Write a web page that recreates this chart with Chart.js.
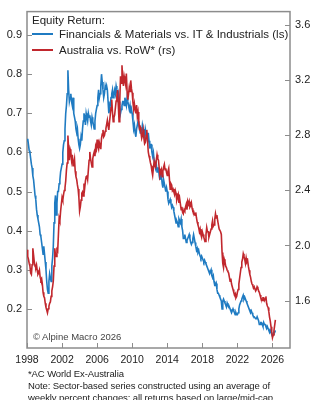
<!DOCTYPE html>
<html>
<head>
<meta charset="utf-8">
<script src="https://cdn.jsdelivr.net/npm/chart.js@4.4.1/dist/chart.umd.min.js"></script>
<style>
  body { margin: 0; background: #fff; font-family: "Liberation Sans", Arial, sans-serif; color: #222; }
  #wrap { position: relative; width: 324px; height: 400px; overflow: hidden; }
  canvas { position: absolute; left: 0; top: 0; }
  .txt { position: absolute; white-space: nowrap; }
  .legend { font-size: 11.5px; line-height: 16px; left: 32px; }
  .swatch { display: inline-block; width: 21px; height: 0; border-top: 2px solid; vertical-align: middle; margin-right: 6px; position: relative; top: -1px; }
  .note { font-size: 9.5px; line-height: 12px; left: 28px; letter-spacing: -0.1px; }
</style>
</head>
<body>
<div id="wrap">
  <canvas id="chart" width="324" height="370"></canvas>
  <div class="txt legend" style="top:12px">Equity Return:</div>
  <div class="txt legend" style="top:26px"><span class="swatch" style="border-color:#1f7bc2"></span>Financials &amp; Materials vs. IT &amp; Industrials (ls)</div>
  <div class="txt legend" style="top:42px"><span class="swatch" style="border-color:#c1272d"></span>Australia vs. RoW* (rs)</div>
  <div class="txt" style="left:33px; top:331px; font-size:9.5px; color:#444">© Alpine Macro 2026</div>
  <div class="txt note" style="top:368px">*AC World Ex-Australia</div>
  <div class="txt note" style="top:380px">Note: Sector-based series constructed using an average of</div>
  <div class="txt note" style="top:392px">weekly percent changes; all returns based on large/mid-cap</div>
</div>
<script>
// --------------- Data (monthly readings from Jan 1998) -----------------
const startYear = 1998;
const pointsPerYear = 12;

// Financials & Materials vs. IT & Industrials (left scale)
const finMatVsItInd = [
  0.63, 0.635, 0.62, 0.605, 0.60, 0.585, 0.57, 0.56, 0.54, 0.53, 0.51, 0.49,        // 1998
  0.48, 0.455, 0.44, 0.43, 0.42, 0.41, 0.39, 0.385, 0.37, 0.355, 0.34, 0.36,        // 1999
  0.34, 0.32, 0.30, 0.27, 0.25, 0.24, 0.27, 0.29, 0.28, 0.27, 0.31, 0.33,           // 2000
  0.36, 0.42, 0.47, 0.49, 0.44, 0.47, 0.50, 0.50, 0.52, 0.53, 0.55, 0.56,           // 2001
  0.57, 0.60, 0.62, 0.63, 0.66, 0.70, 0.72, 0.75, 0.81, 0.76, 0.73, 0.74,           // 2002
  0.75, 0.73, 0.72, 0.74, 0.70, 0.69, 0.68, 0.66, 0.65, 0.66, 0.635, 0.62,          // 2003
  0.61, 0.62, 0.64, 0.63, 0.66, 0.68, 0.70, 0.69, 0.67, 0.70, 0.69, 0.68,           // 2004
  0.70, 0.69, 0.695, 0.68, 0.67, 0.69, 0.68, 0.67, 0.66, 0.68, 0.70, 0.71,          // 2005
  0.72, 0.74, 0.76, 0.74, 0.75, 0.77, 0.80, 0.78, 0.76, 0.74, 0.75, 0.77,           // 2006
  0.76, 0.77, 0.76, 0.73, 0.70, 0.71, 0.72, 0.74, 0.75, 0.76, 0.74, 0.75,           // 2007
  0.76, 0.75, 0.77, 0.76, 0.74, 0.75, 0.73, 0.72, 0.70, 0.71, 0.72, 0.73,           // 2008
  0.73, 0.72, 0.74, 0.73, 0.72, 0.74, 0.73, 0.72, 0.71, 0.72, 0.70, 0.71,           // 2009
  0.70, 0.68, 0.66, 0.67, 0.65, 0.64, 0.66, 0.67, 0.68, 0.67, 0.66, 0.65,           // 2010
  0.66, 0.65, 0.67, 0.66, 0.65, 0.64, 0.66, 0.65, 0.64, 0.63, 0.65, 0.63,           // 2011
  0.61, 0.62, 0.62, 0.60, 0.59, 0.60, 0.58, 0.57, 0.56, 0.57, 0.55, 0.56,           // 2012
  0.56, 0.54, 0.53, 0.545, 0.54, 0.52, 0.51, 0.53, 0.52, 0.51, 0.50, 0.51,          // 2013
  0.50, 0.48, 0.47, 0.475, 0.48, 0.47, 0.46, 0.465, 0.46, 0.45, 0.44, 0.43,         // 2014
  0.42, 0.425, 0.42, 0.41, 0.43, 0.425, 0.42, 0.43, 0.41, 0.40, 0.38, 0.38,         // 2015
  0.39, 0.38, 0.37, 0.375, 0.38, 0.385, 0.39, 0.38, 0.37, 0.365, 0.37, 0.38,        // 2016
  0.39, 0.38, 0.37, 0.36, 0.35, 0.355, 0.345, 0.35, 0.34, 0.335, 0.33, 0.335,       // 2017
  0.33, 0.325, 0.32, 0.325, 0.32, 0.315, 0.31, 0.305, 0.30, 0.295, 0.29, 0.295,     // 2018
  0.30, 0.285, 0.28, 0.285, 0.27, 0.26, 0.26, 0.265, 0.25, 0.24, 0.24, 0.235,       // 2019
  0.23, 0.225, 0.22, 0.20, 0.22, 0.225, 0.22, 0.215, 0.21, 0.205, 0.215, 0.21,      // 2020
  0.21, 0.205, 0.20, 0.195, 0.19, 0.195, 0.20, 0.195, 0.19, 0.185, 0.19, 0.185,     // 2021
  0.185, 0.19, 0.20, 0.21, 0.215, 0.22, 0.225, 0.23, 0.235, 0.225, 0.23, 0.225,     // 2022
  0.22, 0.215, 0.21, 0.205, 0.20, 0.195, 0.19, 0.195, 0.19, 0.185, 0.18, 0.18,      // 2023
  0.18, 0.175, 0.175, 0.18, 0.18, 0.17, 0.16, 0.16, 0.165, 0.165, 0.16, 0.155,      // 2024
  0.165, 0.16, 0.16, 0.155, 0.15, 0.155, 0.15, 0.145, 0.14, 0.145, 0.14, 0.135,     // 2025
  0.13, 0.135, 0.14, 0.14, 0.145                                                    // 2026
];

// Australia vs. RoW* (right scale)
const ausVsRow = [
  1.97, 1.92, 1.90, 1.87, 1.85, 1.80, 1.79, 1.86, 1.98, 1.93, 1.88, 1.85,   // 1998
  1.84, 1.86, 1.82, 1.79, 1.80, 1.82, 1.77, 1.75, 1.76, 1.72, 1.66, 1.63,   // 1999
  1.62, 1.58, 1.55, 1.53, 1.51, 1.54, 1.56, 1.58, 1.59, 1.63, 1.67, 1.70,   // 2000
  1.74, 1.85, 1.98, 1.93, 1.92, 1.97, 1.96, 2.08, 2.20, 2.18, 2.25, 2.30,   // 2001
  2.35, 2.33, 2.37, 2.40, 2.42, 2.47, 2.55, 2.60, 2.80, 2.70, 2.62, 2.70,   // 2002
  2.68, 2.62, 2.66, 2.58, 2.60, 2.63, 2.54, 2.50, 2.48, 2.44, 2.41, 2.35,   // 2003
  2.25, 2.28, 2.33, 2.38, 2.39, 2.36, 2.45, 2.42, 2.47, 2.50, 2.51, 2.48,   // 2004
  2.55, 2.62, 2.68, 2.63, 2.60, 2.57, 2.63, 2.66, 2.68, 2.65, 2.72, 2.70,   // 2005
  2.77, 2.72, 2.70, 2.75, 2.73, 2.70, 2.78, 2.81, 2.84, 2.79, 2.80, 2.83,   // 2006
  2.85, 2.88, 2.91, 2.87, 2.84, 2.90, 2.95, 3.00, 3.06, 2.97, 2.90, 2.93,   // 2007
  2.95, 3.00, 3.05, 3.08, 3.13, 3.02, 2.90, 3.05, 3.23, 3.18, 3.31, 3.22,   // 2008
  3.16, 3.23, 3.20, 3.17, 3.25, 3.12, 3.06, 3.10, 3.15, 3.12, 3.20, 3.14,   // 2009
  3.11, 3.04, 2.99, 3.03, 2.99, 2.96, 3.02, 2.94, 2.97, 2.90, 2.85, 2.86,   // 2010
  2.82, 2.78, 2.80, 2.84, 2.78, 2.74, 2.75, 2.80, 2.84, 2.76, 2.68, 2.65,   // 2011
  2.63, 2.60, 2.58, 2.54, 2.51, 2.56, 2.61, 2.58, 2.57, 2.62, 2.66, 2.63,   // 2012
  2.62, 2.56, 2.51, 2.53, 2.55, 2.50, 2.54, 2.57, 2.59, 2.55, 2.56, 2.53,   // 2013
  2.51, 2.54, 2.56, 2.48, 2.41, 2.45, 2.44, 2.40, 2.41, 2.39, 2.37, 2.40,   // 2014
  2.38, 2.33, 2.35, 2.37, 2.31, 2.34, 2.30, 2.26, 2.28, 2.24, 2.23, 2.26,   // 2015
  2.25, 2.28, 2.30, 2.26, 2.32, 2.30, 2.32, 2.28, 2.29, 2.31, 2.27, 2.25,   // 2016
  2.25, 2.23, 2.22, 2.24, 2.20, 2.17, 2.15, 2.13, 2.10, 2.12, 2.08, 2.06,   // 2017
  2.10, 2.08, 2.06, 2.04, 2.03, 2.08, 2.13, 2.10, 2.10, 2.06, 2.08, 2.10,   // 2018
  2.12, 2.15, 2.18, 2.14, 2.15, 2.19, 2.23, 2.20, 2.22, 2.18, 2.15, 2.12,   // 2019
  2.12, 2.10, 2.08, 1.95, 1.87, 1.84, 1.90, 1.88, 1.85, 1.84, 1.82, 1.81,   // 2020
  1.80, 1.77, 1.74, 1.76, 1.72, 1.70, 1.68, 1.66, 1.64, 1.65, 1.62, 1.63,   // 2021
  1.66, 1.68, 1.72, 1.76, 1.80, 1.84, 1.88, 1.90, 1.94, 1.92, 1.90, 1.87,   // 2022
  1.91, 1.88, 1.89, 1.85, 1.82, 1.79, 1.77, 1.74, 1.72, 1.71, 1.69, 1.70,   // 2023
  1.70, 1.67, 1.68, 1.70, 1.69, 1.67, 1.66, 1.64, 1.62, 1.61, 1.60, 1.62,   // 2024
  1.62, 1.60, 1.61, 1.63, 1.58, 1.56, 1.55, 1.52, 1.48, 1.45, 1.41, 1.37,   // 2025
  1.33, 1.35, 1.38, 1.42, 1.46                                              // 2026
];

const yearTicks = [1998, 2002, 2006, 2010, 2014, 2018, 2022, 2026];
const leftTicks = [0.2, 0.3, 0.4, 0.5, 0.6, 0.7, 0.8, 0.9];
const rightTicks = [1.6, 2.0, 2.4, 2.8, 3.2, 3.6];

const toPoints = arr => arr.map((v, i) => ({ x: startYear + i / pointsPerYear, y: v }));

// --------------- Frame + inward tick marks -----------------
const framePlugin = {
  id: "frame",
  beforeDatasetsDraw(chart) {
    const { ctx, chartArea: a, scales } = chart;
    ctx.save();
    ctx.strokeStyle = "#8c8c8c";
    ctx.lineWidth = 1.5;
    ctx.strokeRect(a.left, a.top, a.right - a.left, a.bottom - a.top);
    ctx.beginPath();
    scales.x.ticks.forEach(t => {
      const px = Math.round(scales.x.getPixelForValue(t.value)) + 0.5;
      ctx.moveTo(px, a.bottom); ctx.lineTo(px, a.bottom - 5);
    });
    scales.y.ticks.forEach(t => {
      const py = Math.round(scales.y.getPixelForValue(t.value)) + 0.5;
      ctx.moveTo(a.left, py); ctx.lineTo(a.left + 5, py);
    });
    scales.y1.ticks.forEach(t => {
      const py = Math.round(scales.y1.getPixelForValue(t.value)) + 0.5;
      ctx.moveTo(a.right, py); ctx.lineTo(a.right - 5, py);
    });
    ctx.lineWidth = 1;
    ctx.stroke();
    ctx.restore();
  }
};

const tickFont = { family: "'Liberation Sans', Arial, sans-serif", size: 11 };

new Chart(document.getElementById("chart"), {
  type: "line",
  data: {
    datasets: [
      {
        label: "Australia vs. RoW* (rs)",
        data: toPoints(ausVsRow),
        yAxisID: "y1",
        borderColor: "#c1272d",
        borderWidth: 1.6,
        pointRadius: 0,
        tension: 0,
        order: 0
      },
      {
        label: "Financials & Materials vs. IT & Industrials (ls)",
        data: toPoints(finMatVsItInd),
        yAxisID: "y",
        borderColor: "#1f7bc2",
        borderWidth: 1.6,
        pointRadius: 0,
        tension: 0,
        order: 1
      }
    ]
  },
  options: {
    responsive: false,
    animation: false,
    layout: { padding: { top: 8, left: 0, right: 0, bottom: 0 } },
    plugins: { legend: { display: false }, tooltip: { enabled: false } },
    scales: {
      x: {
        type: "linear",
        min: 1998,
        max: 2028,
        grid: { display: false, drawTicks: false },
        border: { display: false },
        afterBuildTicks: s => { s.ticks = yearTicks.map(v => ({ value: v })); },
        afterFit: s => { s.height = 22; },
        ticks: { color: "#222", font: { ...tickFont, size: 10.5 }, padding: 6, maxRotation: 0, autoSkip: false, callback: v => String(v) }
      },
      y: {
        position: "left",
        min: 0.1,
        max: 0.96,
        grid: { display: false, drawTicks: false },
        border: { display: false },
        afterBuildTicks: s => { s.ticks = leftTicks.map(v => ({ value: v })); },
        afterFit: s => { s.width = 27; },
        ticks: { color: "#222", font: tickFont, padding: 5, callback: v => v.toFixed(1) }
      },
      y1: {
        position: "right",
        min: 1.255,
        max: 3.70,
        grid: { display: false, drawTicks: false },
        border: { display: false },
        afterBuildTicks: s => { s.ticks = rightTicks.map(v => ({ value: v })); },
        afterFit: s => { s.width = 34; },
        ticks: { color: "#222", font: tickFont, padding: 5, callback: v => v.toFixed(1) }
      }
    }
  },
  plugins: [framePlugin]
});
</script>
</body>
</html>
